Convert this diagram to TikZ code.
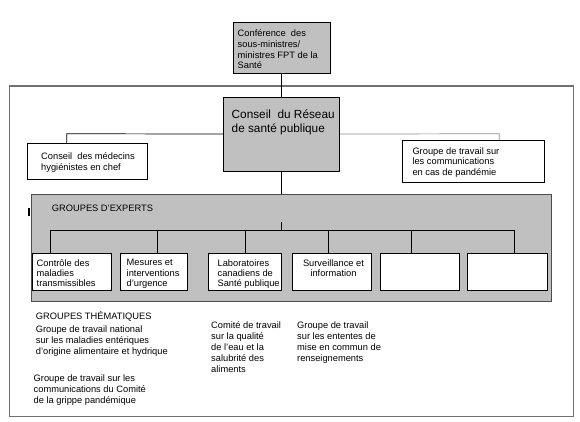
\documentclass[tikz,border=0pt]{standalone}
\usepackage{fontspec}
\setmainfont{Liberation Sans}
\usetikzlibrary{calc}
\definecolor{gris}{RGB}{192,192,192}
\definecolor{cadregris}{RGB}{112,112,112}

\begin{document}
\begin{tikzpicture}[x=1pt, y=-1pt,
    boite/.style={draw=black, line width=0.8pt, anchor=north west, inner sep=0pt},
    texte/.style={anchor=north west, inner sep=0pt, align=left, font=\fontsize{9.3}{11}\selectfont},
    lien/.style={line width=0.7pt}]
    \useasboundingbox (0,0) rectangle (580,422);

    % cadre du réseau
    \node[boite, draw=cadregris, line width=1.2pt, minimum width=564pt, minimum height=330pt] (reseau) at (9,85.5) {};

    % conférence des sous-ministres
    \node[boite, fill=gris, minimum width=97pt, minimum height=51pt] (conf) at (232.5,22) {};
    \node[texte, font=\fontsize{9.3}{10.8}\selectfont] (conf-txt) at (237.5,29.5) {Conférence\ \ des\\sous-ministres/\\ministres FPT de la\\Santé};

    % conseil du réseau
    \node[boite, fill=gris, minimum width=116pt, minimum height=74pt] (conseil) at (223,96.7) {};
    \node[texte, font=\fontsize{11.8}{14}\selectfont] (conseil-txt) at (231.5,110) {Conseil\ \ du Réseau\\de santé publique};

    % comités latéraux
    \node[boite, fill=white, minimum width=120pt, minimum height=36pt] (medecins) at (27.3,143.3) {};
    \node[texte, font=\fontsize{9.3}{10.7}\selectfont] (medecins-txt) at (41,152.6) {Conseil\ \ des médecins\\hygiénistes en chef};
    \node[boite, fill=white, minimum width=142.3pt, minimum height=41.7pt] (pandemie) at (401.7,140) {};
    \node[texte, font=\fontsize{9.3}{10.5}\selectfont] (pandemie-txt) at (412.3,147.3) {Groupe de travail sur\\les communications\\en cas de pandémie};

    \coordinate (coin-g) at (66.7,133.7);
    \coordinate (coin-d) at (499.3,133.7);
    \draw[lien] (conf.south) -- (conseil.north);
    \draw[lien] (conseil.west) -- (coin-g) -- (coin-g |- medecins.north);
    \draw[lien, black!45] (conseil.east) -- (coin-d) -- (coin-d |- pandemie.north);

    % groupes d'experts
    \node[boite, fill=gris, draw=black!70, minimum width=519.8pt, minimum height=106.7pt] (experts) at (30.7,194) {};
    \draw[lien] (conseil.south) -- (conseil.south |- experts.north);
    \draw[line width=1.4pt] (29,208) -- (29,216);
    \node[texte, anchor=base west] (experts-txt) at (51.7,211.4) {GROUPES D'EXPERTS};

    \coordinate (exp-haut) at (281,221.7);
    \coordinate (exp-barre) at (281,230.7);
    \draw[lien] (exp-haut) -- (exp-barre);
    \foreach \nom/\xa/\xb/\xc in {e1/31.7/111/50.2, e2/119.9/187.3/157.7, e3/208.1/281.1/245.1,
                                  e4/291.8/370.7/328.5, e5/379.9/458.9/411.8, e6/467.1/546.7/514.5} {
        \node[boite, fill=white, minimum width={\xb pt-\xa pt}, minimum height=36.7pt] (\nom) at (\xa,253.3) {};
        \coordinate (b-\nom) at (\xc,230.7);
        \draw[lien] (b-\nom) -- (b-\nom |- \nom.north);
    }
    \draw[lien] (b-e1) -- (b-e6);

    \node[texte, font=\fontsize{9.3}{10.2}\selectfont] (e1-txt) at (36.5,259.3) {Contrôle des\\maladies\\transmissibles};
    \node[texte, font=\fontsize{9.3}{10.2}\selectfont] (e2-txt) at (126.5,259.3) {Mesures et\\interventions\\d'urgence};
    \node[texte, font=\fontsize{9.3}{10.2}\selectfont] (e3-txt) at (217.4,259.3) {Laboratoires\\canadiens de\\Santé publique};
    \node[texte, anchor=north, align=center, font=\fontsize{9.3}{10}\selectfont] (e4-txt) at (333.5,259.3) {Surveillance et\\information};

    % groupes thématiques
    \node[texte, anchor=base west] (them-txt) at (35.7,319.4) {GROUPES THÉMATIQUES};
    \node[texte] (national-txt) at (35.7,325.5) {Groupe de travail national\\sur les maladies entériques\\d'origine alimentaire et hydrique};
    \node[texte] (grippe-txt) at (33.5,374.5) {Groupe de travail sur les\\communications du Comité\\de la grippe pandémique};
    \node[texte] (eau-txt) at (211,321.5) {Comité de travail\\sur la qualité\\de l'eau et la\\salubrité des\\aliments};
    \node[texte] (ententes-txt) at (297,321.5) {Groupe de travail\\sur les ententes de\\mise en commun de\\renseignements};
\end{tikzpicture}
\end{document}
